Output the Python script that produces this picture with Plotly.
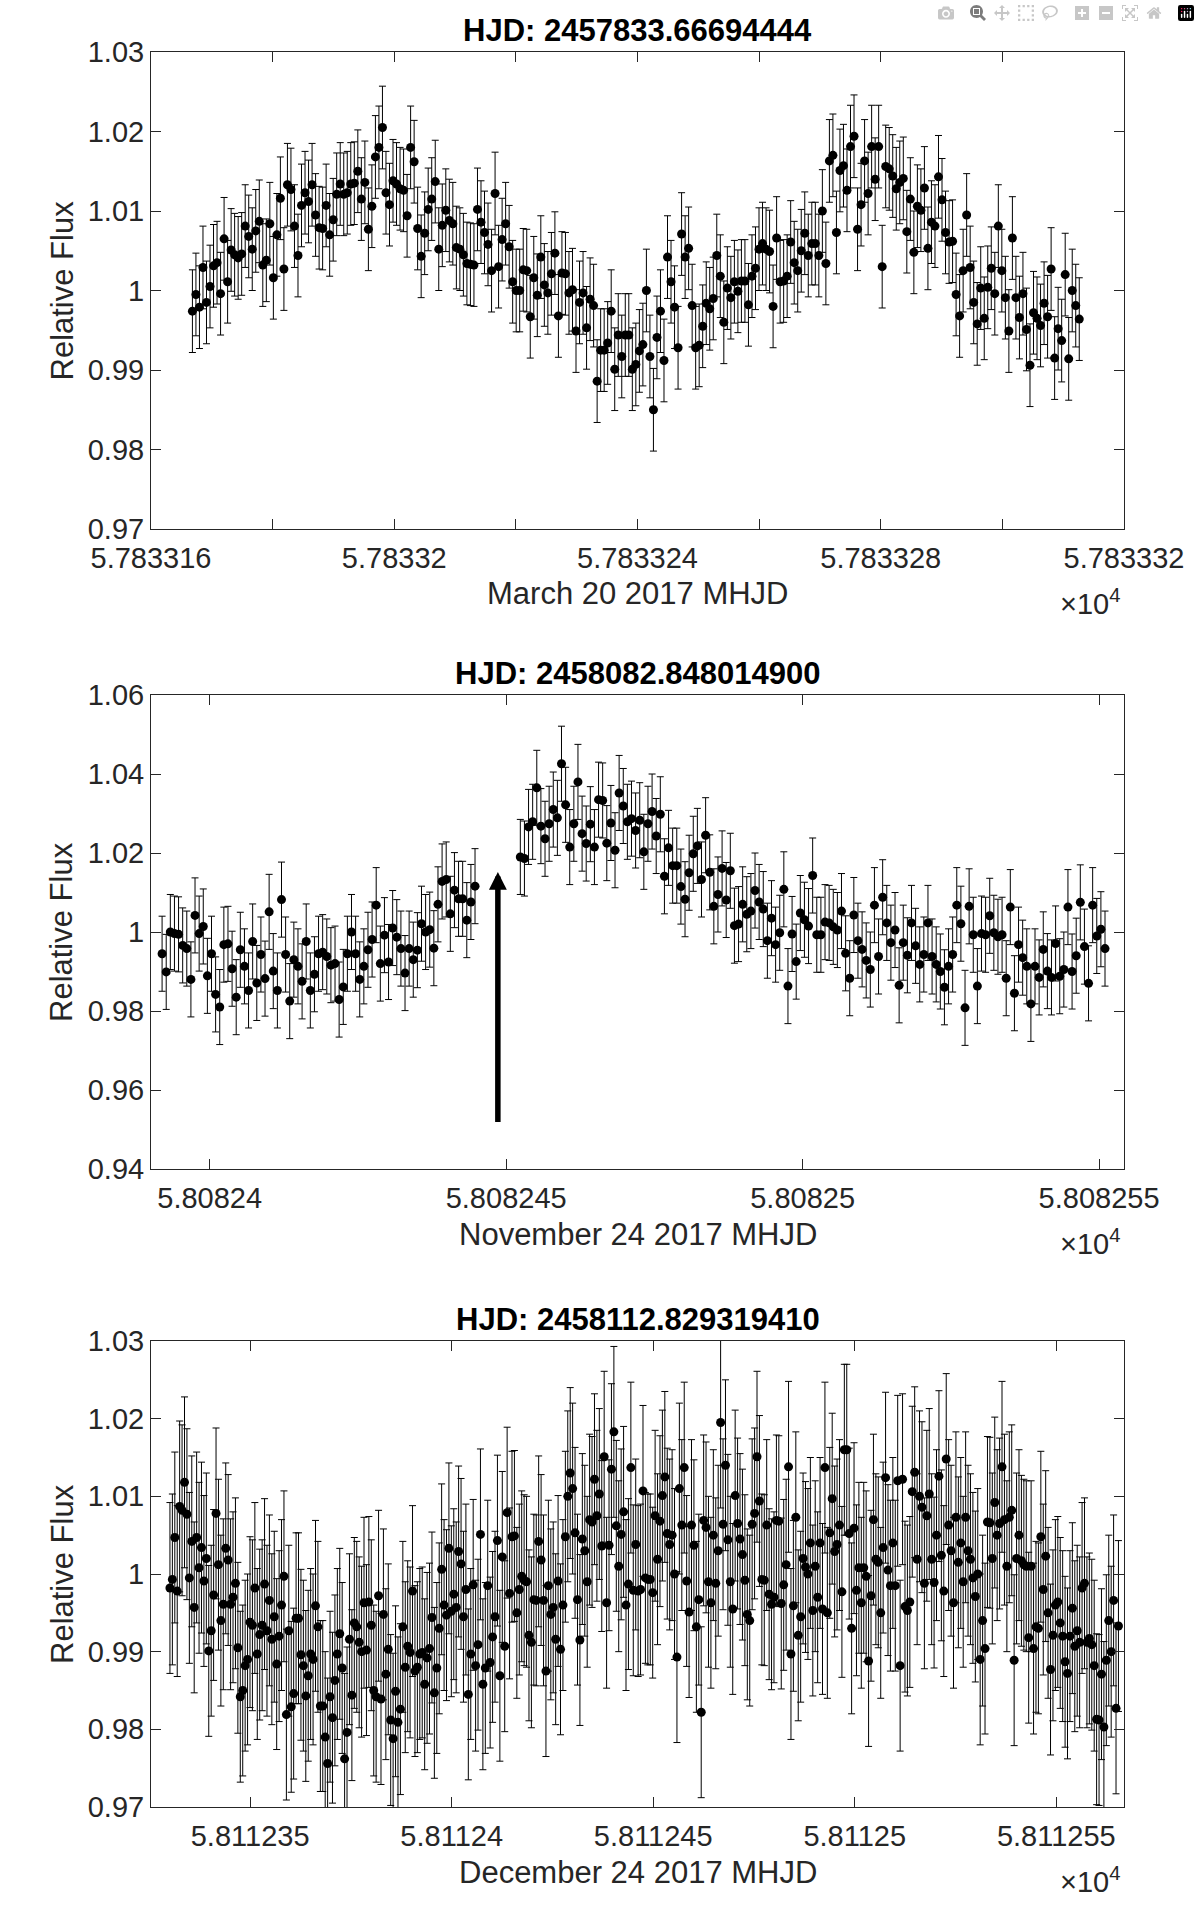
import plotly.graph_objects as go

FONT = "Liberation Sans, Arial, Helvetica, sans-serif"
AX = "#262626"
DAY = 86400.0

# ---------------- March 20 2017 ----------------
P1_TITLE = "HJD: 2457833.66694444"
P1_XLABEL = "March 20 2017 MHJD"
P1_T0 = 57833.16681          # MHJD of the first frame
P1_ERR = 0.0052
P1_SECONDS = [
    0, 50, 100, 150, 200, 250, 300, 350, 400, 450,
    500, 550, 600, 650, 700, 750, 800, 850, 900, 950,
    1000, 1050, 1100, 1150, 1200, 1250, 1300, 1350, 1400, 1450,
    1500, 1550, 1600, 1650, 1700, 1750, 1800, 1850, 1900, 1950,
    2000, 2050, 2100, 2150, 2200, 2250, 2300, 2350, 2400, 2450,
    2500, 2550, 2600, 2650, 2700, 2750, 2800, 2850, 2900, 2950,
    3000, 3050, 3100, 3150, 3200, 3250, 3300, 3350, 3400, 3450,
    3500, 3550, 3600, 3650, 3700, 3750, 3800, 3850, 3900, 3950,
    4000, 4050, 4100, 4150, 4200, 4250, 4300, 4350, 4400, 4450,
    4500, 4550, 4600, 4650, 4700, 4750, 4800, 4850, 4900, 4950,
    5000, 5050, 5100, 5150, 5200, 5250, 5300, 5350, 5400, 5450,
    5500, 5550, 5600, 5650, 5700, 5750, 5800, 5850, 5900, 5950,
    6000, 6050, 6100, 6150, 6200, 6250, 6300, 6350, 6400, 6450,
    6500, 6550, 6600, 6650, 6700, 6750, 6800, 6850, 6900, 6950,
    7000, 7050, 7100, 7150, 7200, 7250, 7300, 7350, 7400, 7450,
    7500, 7550, 7600, 7650, 7700, 7750, 7800, 7850, 7900, 7950,
    8000, 8050, 8100, 8150, 8200, 8250, 8300, 8350, 8400, 8450,
    8500, 8550, 8600, 8650, 8700, 8750, 8800, 8850, 8900, 8950,
    9000, 9050, 9100, 9150, 9200, 9250, 9300, 9350, 9400, 9450,
    9500, 9550, 9600, 9650, 9700, 9750, 9800, 9850, 9900, 9950,
    10000, 10050, 10100, 10150, 10200, 10250, 10300, 10350, 10400, 10450,
    10500, 10550, 10600, 10650, 10700, 10750, 10800, 10850, 10900, 10950,
    11000, 11050, 11100, 11150, 11200, 11250, 11300, 11350, 11400, 11450,
    11500, 11550, 11600, 11650, 11700, 11750, 11800, 11850, 11900, 11950,
    12000, 12050, 12100, 12150, 12200, 12250, 12300, 12350, 12400, 12450,
    12500, 12550, 12600,
]
P1_FLUX = [
    0.9974, 0.9995, 0.9979, 1.0029, 0.9985, 1.0005, 1.0031, 1.0035, 0.9996, 1.0065,
    1.0011, 1.0051, 1.0045, 1.0041, 1.0046, 1.0081, 1.0068, 1.0052, 1.0075, 1.0087,
    1.0032, 1.0038, 1.0084, 1.0016, 1.0070, 1.0116, 1.0027, 1.0133, 1.0127, 1.0081,
    1.0044, 1.0107, 1.0123, 1.0112, 1.0133, 1.0095, 1.0079, 1.0078, 1.0107, 1.0070,
    1.0089, 1.0121, 1.0134, 1.0121, 1.0123, 1.0134, 1.0135, 1.0150, 1.0115, 1.0136,
    1.0077, 1.0106, 1.0168, 1.0180, 1.0205, 1.0123, 1.0108, 1.0138, 1.0134, 1.0128,
    1.0126, 1.0094, 1.0180, 1.0162, 1.0078, 1.0043, 1.0072, 1.0102, 1.0115, 1.0137,
    1.0052, 1.0082, 1.0101, 1.0088, 1.0084, 1.0054, 1.0052, 1.0045, 1.0034, 1.0033,
    1.0032, 1.0102, 1.0086, 1.0073, 1.0058, 1.0025, 1.0122, 1.0030, 1.0064, 1.0084,
    1.0055, 1.0011, 1.0000, 1.0000, 1.0026, 1.0025, 0.9967, 1.0016, 0.9994, 1.0042,
    1.0007, 0.9997, 1.0021, 1.0047, 0.9968, 1.0022, 1.0021, 0.9997, 1.0001, 0.9949,
    0.9985, 0.9997, 0.9953, 0.9989, 0.9981,
    0.9886, 0.9925, 0.9925, 0.9934, 0.9974, 0.9901, 0.9944, 0.9917, 0.9944, 0.9944,
    0.9901, 0.9907, 0.9924, 0.9932, 1.0000, 0.9917, 0.9850, 0.9941, 0.9974, 0.9912,
    1.0042, 1.0011, 0.9979, 0.9928, 1.0071, 1.0042, 1.0053, 0.9981, 0.9928, 0.9931,
    0.9955, 0.9984, 0.9977, 0.9990, 1.0044, 1.0018, 0.9960, 1.0003, 0.9991, 1.0011,
    0.9999, 1.0012, 1.0012, 0.9982, 1.0018, 1.0028, 1.0052, 1.0059, 1.0052, 1.0049,
    0.9980, 1.0066, 1.0011, 1.0012, 1.0018, 1.0061, 1.0035, 1.0025, 1.0050, 1.0072,
    1.0044, 1.0059, 1.0059, 1.0044, 1.0100, 1.0034, 1.0163, 1.0170, 1.0073, 1.0151,
    1.0157, 1.0126, 1.0181, 1.0194, 1.0077, 1.0108, 1.0163, 1.0122, 1.0181, 1.0140,
    1.0181, 1.0030, 1.0156, 1.0153, 1.0144, 1.0128, 1.0136, 1.0141, 1.0074, 1.0115,
    1.0048, 1.0106, 1.0101, 1.0129, 1.0053, 1.0086, 1.0081, 1.0143, 1.0114, 1.0073,
    1.0061, 1.0062, 0.9995, 0.9968, 1.0025, 1.0095, 1.0029, 0.9985, 0.9958, 1.0003,
    0.9965, 1.0004, 1.0028, 0.9996, 1.0081, 1.0025, 0.9991, 0.9949, 1.0066, 0.9991,
    0.9966, 0.9996, 0.9951, 0.9906, 0.9972, 0.9965, 0.9956, 0.9984, 0.9967, 1.0027,
    0.9915, 0.9952, 0.9937, 1.0020, 0.9914, 1.0000, 0.9981, 0.9964,
]
P1_XRANGE = [57833.16, 57833.32]
P1_XTICKS = [57833.16, 57833.20, 57833.24, 57833.28, 57833.32]
P1_XTICKTEXT = ["5.783316", "5.78332", "5.783324", "5.783328", "5.783332"]
P1_XMINOR = [57833.18, 57833.22, 57833.26, 57833.30]
P1_YRANGE = [0.97, 1.03]
P1_YTICKS = [0.97, 0.98, 0.99, 1.00, 1.01, 1.02, 1.03]
P1_YTICKTEXT = ["0.97", "0.98", "0.99", "1", "1.01", "1.02", "1.03"]

# ---------------- November 24 2017 ----------------
P2_TITLE = "HJD: 2458082.848014900"
P2_XLABEL = "November 24 2017 MHJD"
P2_T0 = 58082.39197
P2_ERR = 0.0095
P2_MINUTES = [
    0, 1, 2, 3, 4, 5, 6, 7, 8, 9,
    10, 11, 12, 13, 14, 15, 16, 17, 18, 19,
    20, 21, 22, 23, 24, 25, 26, 27, 28, 29,
    30, 31, 32, 33, 34, 35, 36, 37, 38, 39,
    40, 41, 42, 43, 44, 45, 46, 47, 48, 49,
    50, 51, 52, 53, 54, 55, 56, 57, 58, 59,
    60, 61, 62, 63, 64, 65, 66, 67, 68, 69,
    70, 71, 72, 73, 74, 75, 76,
    87, 88, 89, 90, 91, 92, 93, 94, 95, 96,
    97, 98, 99, 100, 101, 102, 103, 104, 105, 106,
    107, 108, 109, 110, 111, 112, 113, 114, 115, 116,
    117, 118, 119, 120, 121, 122, 123, 124, 125, 126,
    127, 128, 129, 130, 131, 132, 133, 134, 135, 136,
    137, 138, 139, 140, 141, 142, 143, 144, 145, 146,
    147, 148, 149, 150, 151, 152, 153, 154, 155, 156,
    157, 158, 159, 160, 161, 162, 163, 164, 165, 166,
    167, 168, 169, 170, 171, 172, 173, 174, 175, 176,
    177, 178, 179, 180, 181, 182, 183, 184, 185, 186,
    187, 188, 189, 190, 191, 192, 193, 194, 195, 196,
    197, 198, 199, 200, 201, 202, 203, 204, 205, 206,
    207, 208, 209, 210, 211, 212, 213, 214, 215, 216,
    217, 218, 219, 220, 221, 222, 223, 224, 225, 226,
    227, 228, 229,
]
P2_FLUX = [
    # before the gap
    0.9945, 0.9899, 1.0000, 0.9996, 0.9994, 0.9966, 0.9958, 0.9880, 1.0042, 0.9996,
    1.0014, 0.9889, 0.9945, 0.9842, 0.9810, 0.9968, 0.9970, 0.9907, 0.9835, 0.9955,
    0.9913, 0.9852, 0.9976, 0.9871, 0.9943, 0.9882, 1.0051, 0.9901, 0.9852, 1.0082,
    0.9943, 0.9825, 0.9930, 0.9913, 0.9875, 0.9976, 0.9852, 0.9893, 0.9945, 0.9949,
    0.9938, 0.9916, 0.9920, 0.9829, 0.9861, 0.9945, 1.0000, 0.9945, 0.9880, 0.9913,
    0.9955, 0.9981, 1.0068, 0.9920, 0.9992, 0.9924, 1.0010, 0.9987, 0.9958, 0.9896,
    0.9958, 0.9930, 0.9954, 1.0021, 1.0000, 1.0006, 0.9959, 1.0070, 1.0128, 1.0133,
    1.0046, 1.0106, 1.0084, 1.0084, 1.0030, 1.0076, 1.0116,
    # after the gap
    1.0190, 1.0186, 1.0266, 1.0279, 1.0365, 1.0268, 1.0236, 1.0274, 1.0310, 1.0289,
    1.0426, 1.0322, 1.0215, 1.0274, 1.0380, 1.0249, 1.0224, 1.0273, 1.0215, 1.0335,
    1.0333, 1.0225, 1.0276, 1.0207, 1.0352, 1.0319, 1.0279, 1.0287, 1.0257, 1.0283,
    1.0203, 1.0274,
    1.0305, 1.0243, 1.0298, 1.0141, 1.0213, 1.0168, 1.0168, 1.0115, 1.0083, 1.0150,
    1.0198, 1.0218, 1.0133, 1.0245, 1.0151, 1.0065, 1.0095, 1.0161, 1.0081, 1.0155,
    1.0016, 1.0020, 1.0070, 1.0045, 1.0053, 1.0105, 1.0076, 1.0058, 0.9978, 1.0035,
    0.9968, 0.9998, 1.0108, 0.9863, 0.9995, 0.9925, 1.0048, 1.0031, 1.0015, 1.0143,
    0.9993, 0.9993, 1.0025, 1.0023, 1.0013, 1.0005, 1.0053, 0.9946, 0.9883, 1.0043,
    0.9978, 0.9956, 0.9928, 0.9905, 1.0068, 0.9938, 1.0088, 1.0023, 0.9973, 1.0005,
    0.9865, 0.9973, 0.9941, 1.0023, 0.9965, 0.9918, 0.9943, 1.0023, 0.9938, 0.9918,
    0.9900, 0.9860, 0.9913, 0.9943, 1.0068, 1.0021, 0.9808, 1.0065, 0.9993, 0.9863,
    0.9996, 0.9993, 1.0041, 0.9998, 0.9988, 0.9993, 0.9883, 1.0063, 0.9845, 0.9968,
    0.9935, 0.9913, 0.9818, 0.9913, 0.9885, 0.9956, 0.9901, 0.9885, 0.9971, 0.9888,
    0.9905, 1.0063, 0.9900, 0.9940, 1.0075, 0.9963, 0.9870, 1.0068, 0.9990, 1.0007,
    0.9958,
]
P2_XRANGE = [58082.3901, 58082.5542]
P2_XTICKS = [58082.40, 58082.45, 58082.50, 58082.55]
P2_XTICKTEXT = ["5.80824", "5.808245", "5.80825", "5.808255"]
P2_XMINOR = []
P2_YRANGE = [0.94, 1.06]
P2_YTICKS = [0.94, 0.96, 0.98, 1.00, 1.02, 1.04, 1.06]
P2_YTICKTEXT = ["0.94", "0.96", "0.98", "1", "1.02", "1.04", "1.06"]
ARROW_X = 58082.4486
ARROW_TAIL = 0.9515
ARROW_TIP = 1.0152

# ---------------- December 24 2017 ----------------
P3_TITLE = "HJD: 2458112.829319410"
P3_XLABEL = "December 24 2017 MHJD"
P3_T0 = 58112.3301
P3_ERR = 0.011
P3_SECONDS = [
    0, 52, 104, 156, 208, 260, 312, 364, 416, 468,
    520, 572, 624, 676, 728, 780, 832, 884, 936, 988,
    1040, 1092, 1144, 1196, 1248, 1300, 1352, 1404, 1456, 1508,
    1560, 1612, 1664, 1716, 1768, 1820, 1872, 1924, 1976, 2028,
    2080, 2132, 2184, 2236, 2288, 2340, 2392, 2444, 2496, 2548,
    2600, 2652, 2704, 2756, 2808, 2860, 2912, 2964, 3016, 3068,
    3120, 3172, 3224, 3276, 3328, 3380, 3432, 3484, 3536, 3588,
    3640, 3692, 3744, 3796, 3848, 3900, 3952, 4004, 4056, 4108,
    4160, 4212, 4264, 4316, 4368, 4420, 4472, 4524, 4576, 4628,
    4680, 4732, 4784, 4836, 4888, 4940, 4992, 5044, 5096, 5148,
    5200, 5252, 5304, 5356, 5408, 5460, 5512, 5564, 5616, 5668,
    5720, 5772, 5824, 5876, 5928, 5980, 6032, 6084, 6136, 6188,
    6240, 6292, 6344, 6396, 6448, 6500, 6552, 6604, 6656, 6708,
    6760, 6812, 6864, 6916, 6968, 7020, 7072, 7124, 7176, 7228,
    7280, 7332, 7384, 7436, 7488, 7540, 7592, 7644, 7696, 7748,
    7800, 7852, 7904, 7956, 8008, 8060, 8112, 8164, 8216, 8268,
    8320, 8372, 8424, 8476, 8528, 8580, 8632, 8684, 8736, 8788,
    8840, 8892, 8944, 8996, 9048, 9100, 9152, 9204, 9256, 9308,
    9360, 9412, 9464, 9516, 9568, 9620, 9672, 9724, 9776, 9828,
    9880, 9932, 9984, 10036, 10088, 10140, 10192, 10244, 10296, 10348,
    10400, 10452, 10504, 10556, 10608, 10660, 10712, 10764, 10816, 10868,
    10920, 10972, 11024, 11076, 11128, 11180, 11232, 11284, 11336, 11388,
    11440, 11492, 11544, 11596, 11648, 11700, 11752, 11804, 11856, 11908,
    11960, 12012, 12064, 12116, 12168, 12220, 12272, 12324, 12376, 12428,
    12480, 12532, 12584, 12636, 12688, 12740, 12792, 12844, 12896, 12948,
    13000, 13052, 13104, 13156, 13208, 13260, 13312, 13364, 13416, 13468,
    13520, 13572, 13624, 13676, 13728, 13780, 13832, 13884, 13936, 13988,
    14040, 14092, 14144, 14196, 14248, 14300, 14352, 14404, 14456, 14508,
    14560, 14612, 14664, 14716, 14768, 14820, 14872, 14924, 14976, 15028,
    15080, 15132, 15184, 15236, 15288, 15340, 15392, 15444, 15496, 15548,
    15600, 15652, 15704, 15756, 15808, 15860, 15912, 15964, 16016, 16068,
    16120, 16172, 16224, 16276, 16328, 16380, 16432, 16484, 16536, 16588,
    16640, 16692, 16744, 16796, 16848, 16900, 16952, 17004, 17056, 17108,
    17160, 17212, 17264, 17316, 17368, 17420, 17472, 17524, 17576, 17628,
    17680, 17732, 17784, 17836, 17888, 17940, 17992, 18044, 18096, 18148,
    18200, 18252, 18304, 18356, 18408, 18460, 18512, 18564, 18616, 18668,
    18720, 18772, 18824, 18876, 18928, 18980, 19032, 19084, 19136, 19188,
    19240, 19292, 19344, 19396, 19448, 19500, 19552, 19604, 19656, 19708,
    19760, 19812, 19864, 19916, 19968, 20020, 20072, 20124, 20176, 20228,
    20280, 20332,
]
P3_FLUX = [
    0.9982, 0.9993, 1.0047, 0.9978, 1.0087, 1.0082, 1.0118, 1.0077, 0.9995, 1.0042,
    0.9957, 1.0047, 1.0008, 1.0034, 0.9991, 1.0020, 0.9901, 0.9927, 0.9973, 1.0078,
    1.0012, 0.9940, 0.9961, 1.0033, 1.0018, 0.9961, 0.9970, 0.9988, 0.9905, 0.9842,
    0.9850, 0.9882, 0.9890, 0.9938, 0.9934, 0.9982, 0.9897, 0.9922, 0.9934, 0.9987,
    0.9927, 0.9966, 0.9916, 0.9945, 0.9884, 0.9920, 0.9960, 0.9997, 0.9819, 0.9927,
    0.9829, 0.9846, 0.9943, 0.9943, 0.9896, 0.9882, 0.9843, 0.9869, 0.9897, 0.9890,
    0.9959, 0.9932, 0.9830, 0.9830, 0.9790, 0.9756, 0.9842, 0.9815, 0.9863, 0.9897,
    0.9923, 0.9879, 0.9762, 0.9796, 0.9916, 0.9844, 0.9937, 0.9932, 0.9912, 0.9900,
    0.9963, 0.9902, 0.9964, 0.9934, 0.9850, 0.9842, 0.9972, 0.9839, 0.9948, 0.9871,
    0.9903, 0.9812, 0.9788, 0.9849,
    0.9809, 0.9826, 0.9932, 0.9880, 0.9907, 0.9899, 0.9978, 0.9875, 0.9880, 0.9897,
    0.9899, 0.9858, 0.9892, 0.9904, 0.9944, 0.9847, 0.9879, 0.9930, 1.0006, 0.9960,
    0.9947, 1.0033, 0.9952, 0.9974, 0.9957, 1.0029, 1.0013, 0.9945, 0.9980, 0.9845,
    0.9897, 0.9986, 0.9882, 0.9909, 1.0051, 0.9858, 0.9879, 0.9985, 0.9886, 0.9919,
    0.9945, 1.0043, 0.9869, 1.0022, 0.9907, 1.0079, 0.9975, 1.0048, 1.0049, 0.9950,
    0.9980, 0.9997, 0.9992, 0.9990, 0.9921, 0.9912, 0.9967, 0.9966, 1.0042, 1.0018,
    0.9966, 0.9875, 0.9985, 0.9948, 0.9957, 0.9916, 0.9991, 0.9903, 0.9960, 1.0048,
    1.0100, 1.0130, 1.0110, 1.0053, 0.9967, 0.9915, 1.0045, 1.0030, 0.9990, 1.0070,
    1.0067, 1.0122, 1.0075, 1.0103, 1.0036, 1.0151, 0.9963, 1.0037, 1.0135, 1.0183,
    1.0062, 1.0010, 1.0051, 1.0080, 0.9960, 0.9987, 1.0137, 0.9979, 1.0038, 0.9978,
    0.9980, 1.0107, 0.9995, 0.9993, 0.9993, 0.9976, 1.0075, 1.0019, 1.0068, 1.0101,
    1.0125, 1.0052, 1.0038, 1.0050, 1.0000, 0.9893, 1.0110, 1.0063, 1.0137, 0.9991,
    0.9951, 1.0063, 1.0037, 0.9932, 0.9967, 0.9822, 1.0069, 1.0060, 0.9990, 0.9963,
    1.0050, 0.9988, 1.0030, 1.0195, 1.0064, 1.0140, 1.0044, 0.9990, 0.9955, 1.0101,
    1.0065, 1.0045, 1.0025, 0.9992, 0.9948, 0.9940, 1.0064, 1.0078, 1.0151, 1.0094,
    0.9993, 0.9992, 1.0063, 0.9974, 0.9961, 0.9970, 1.0069, 1.0068, 0.9962, 0.9986,
    1.0012, 1.0138, 0.9897, 0.9959, 1.0073, 0.9921, 0.9945, 1.0020, 1.0009, 1.0000,
    1.0040, 0.9953, 1.0010, 0.9970, 1.0040, 0.9955, 1.0137, 0.9950, 1.0053, 1.0097,
    1.0029, 1.0038, 1.0063, 0.9977, 1.0160, 1.0160, 1.0052, 0.9930, 1.0059, 0.9979,
    1.0008, 0.9963, 1.0008, 0.9997, 0.9888, 0.9972, 1.0070, 1.0019, 1.0015, 0.9950,
    1.0034, 1.0124,
    1.0005, 0.9985, 1.0040, 0.9985, 1.0120, 0.9882, 1.0122, 0.9958, 0.9953, 0.9964,
    1.0106, 1.0131, 1.0019, 1.0100, 1.0086, 0.9988, 1.0075, 1.0103, 1.0019, 0.9989,
    1.0050, 1.0126, 1.0024, 0.9978, 1.0148, 1.0063, 1.0030, 0.9963, 1.0073, 1.0015,
    1.0040, 0.9990, 1.0073, 1.0030, 1.0019, 0.9995, 0.9971, 1.0000, 0.9890, 0.9940,
    0.9904, 1.0067, 1.0066, 1.0020, 1.0092, 1.0050, 1.0065, 1.0138, 1.0070, 1.0010,
    1.0073, 1.0082, 0.9889, 1.0020, 1.0050, 1.0017, 1.0012, 1.0010, 0.9918, 1.0010,
    0.9904, 0.9932, 0.9930, 1.0048, 0.9980, 1.0023, 0.9950, 0.9877, 0.9921, 0.9960,
    0.9964, 0.9937, 0.9920, 0.9887, 0.9872, 0.9920, 0.9956, 0.9907, 0.9927, 0.9912,
    0.9982, 0.9988, 0.9912, 0.9917, 0.9909, 0.9882, 0.9813, 0.9812, 0.9871, 0.9803,
    0.9889, 0.9940, 0.9900, 0.9966, 0.9827, 0.9933,
]
P3_XRANGE = [58112.3254, 58112.5668]
P3_XTICKS = [58112.35, 58112.40, 58112.45, 58112.50, 58112.55]
P3_XTICKTEXT = ["5.811235", "5.81124", "5.811245", "5.81125", "5.811255"]
P3_XMINOR = []
P3_YRANGE = [0.97, 1.03]
P3_YTICKS = [0.97, 0.98, 0.99, 1.00, 1.01, 1.02, 1.03]
P3_YTICKTEXT = ["0.97", "0.98", "0.99", "1", "1.01", "1.02", "1.03"]

# panel boxes in page pixels (1200 x 1914)
W, H = 1200, 1914
BOX_LEFT, BOX_RIGHT = 151, 1124
BOX_TOPS = [52, 695, 1341]
BOX_BOTTOMS = [529, 1169, 1807]


def px(v):
    return v / W


def py(v):
    return 1 - v / H


panels = [
    dict(title=P1_TITLE, xlabel=P1_XLABEL, err=P1_ERR, flux=P1_FLUX,
         mhjd=[P1_T0 + s / DAY for s in P1_SECONDS],
         xrange=P1_XRANGE, xticks=P1_XTICKS, xtext=P1_XTICKTEXT, xminor=P1_XMINOR,
         yrange=P1_YRANGE, yticks=P1_YTICKS, ytext=P1_YTICKTEXT),
    dict(title=P2_TITLE, xlabel=P2_XLABEL, err=P2_ERR, flux=P2_FLUX,
         mhjd=[P2_T0 + m / 1440.0 for m in P2_MINUTES],
         xrange=P2_XRANGE, xticks=P2_XTICKS, xtext=P2_XTICKTEXT, xminor=P2_XMINOR,
         yrange=P2_YRANGE, yticks=P2_YTICKS, ytext=P2_YTICKTEXT),
    dict(title=P3_TITLE, xlabel=P3_XLABEL, err=P3_ERR, flux=P3_FLUX,
         mhjd=[P3_T0 + s / DAY for s in P3_SECONDS],
         xrange=P3_XRANGE, xticks=P3_XTICKS, xtext=P3_XTICKTEXT, xminor=P3_XMINOR,
         yrange=P3_YRANGE, yticks=P3_YTICKS, ytext=P3_YTICKTEXT),
]

axis_style = dict(
    showline=True, linecolor=AX, linewidth=1, mirror="ticks",
    ticks="inside", ticklen=10, tickwidth=1, tickcolor=AX,
    showgrid=False, zeroline=False, automargin=False,
    tickfont=dict(family=FONT, size=29, color=AX),
)

fig = go.Figure()
layout = {}
annotations = []

for i, p in enumerate(panels):
    assert len(p["mhjd"]) == len(p["flux"]), (i, len(p["mhjd"]), len(p["flux"]))
    n = "" if i == 0 else str(i + 1)
    top, bot = BOX_TOPS[i], BOX_BOTTOMS[i]

    fig.add_trace(go.Scatter(
        x=p["mhjd"], y=p["flux"], mode="markers",
        marker=dict(color="black", size=9, line=dict(width=0)),
        error_y=dict(type="constant", value=p["err"], color="black",
                     thickness=1, width=3.5),
        xaxis="x" + n, yaxis="y" + n, showlegend=False,
    ))

    xaxis = dict(
        axis_style, domain=[px(BOX_LEFT), px(BOX_RIGHT)], anchor="y" + n,
        range=p["xrange"], tickvals=p["xticks"], ticktext=p["xtext"],
        ticklabelstandoff=3,
    )
    if p["xminor"]:
        xaxis["minor"] = dict(tickvals=p["xminor"], ticks="inside", ticklen=10,
                              tickwidth=1, tickcolor=AX, showgrid=False)
    layout["xaxis" + n] = xaxis
    layout["yaxis" + n] = dict(
        axis_style, domain=[py(bot), py(top)], anchor="x" + n,
        range=p["yrange"], tickvals=p["yticks"], ticktext=p["ytext"],
    )

    cx = px((BOX_LEFT + BOX_RIGHT) / 2)
    annotations += [
        dict(text="<b>" + p["title"] + "</b>", x=cx, y=py(top - 2),
             xref="paper", yref="paper", xanchor="center", yanchor="bottom",
             showarrow=False, font=dict(family=FONT, size=31, color="black")),
        dict(text=p["xlabel"], x=cx, y=py(bot + 65),
             xref="paper", yref="paper", xanchor="center", yanchor="middle",
             showarrow=False, font=dict(family=FONT, size=31, color=AX)),
        dict(text="Relative Flux", x=px(62), y=py((top + bot) / 2),
             xref="paper", yref="paper", xanchor="center", yanchor="middle",
             textangle=-90, showarrow=False,
             font=dict(family=FONT, size=31, color=AX)),
        dict(text="×10<sup>4</sup>", x=px(BOX_RIGHT - 2), y=py(bot + 73),
             xref="paper", yref="paper", xanchor="right", yanchor="middle",
             showarrow=False, font=dict(family=FONT, size=29, color=AX)),
    ]

annotations.append(dict(
    x=ARROW_X, y=ARROW_TIP, ax=ARROW_X, ay=ARROW_TAIL,
    xref="x2", yref="y2", axref="x2", ayref="y2",
    text="", showarrow=True, arrowhead=2, arrowsize=0.65,
    arrowwidth=5.5, arrowcolor="black", standoff=0,
))

fig.update_layout(
    width=W, height=H,
    margin=dict(l=0, r=0, t=0, b=0),
    paper_bgcolor="white", plot_bgcolor="white",
    font=dict(family=FONT, color=AX),
    annotations=annotations,
    **layout,
)

fig.write_html("out.html", post_script="document.body.style.margin='0px';")
